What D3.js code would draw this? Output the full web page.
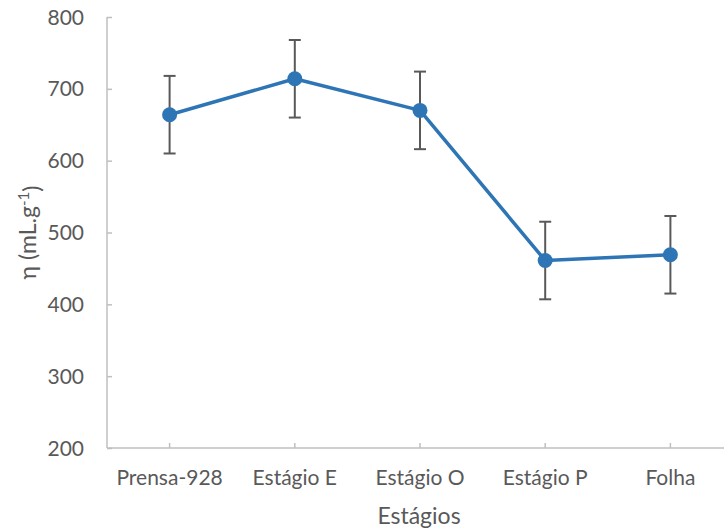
<!DOCTYPE html>
<html>
<head>
<meta charset="utf-8">
<script src="https://cdn.jsdelivr.net/npm/d3@7"></script>
<style>
  html, body { margin: 0; padding: 0; background: #fff; }
  svg { display: block; font-family: Lato, "Open Sans", sans-serif; }
</style>
</head>
<body>
<svg id="chart" width="724" height="532"></svg>
<script>
// Stages and measured values
const categories = ["Prensa-928", "Estágio E", "Estágio O", "Estágio P", "Folha"];
const values = [664, 714, 670, 461, 469];
const errors = [54, 54, 54, 54, 54];
const yTicks = [200, 300, 400, 500, 600, 700, 800];

const W = 724, H = 532;
const plot = { left: 107, right: 733, top: 17, bottom: 448 };

const svg = d3.select("#chart");

const x = d3.scaleBand().domain(categories).range([plot.left, plot.right]);
const y = d3.scaleLinear().domain([200, 800]).range([plot.bottom, plot.top]);
const cx = d => x(d) + x.bandwidth() / 2;

const axisColor = "#BFBFBF";
const textColor = "#595959";

// Y axis: line with inward ticks, labels to the left
const yAxis = d3.axisRight(y).tickValues(yTicks).tickSize(5).tickFormat("");
const gy = svg.append("g").attr("transform", `translate(${plot.left},0)`).call(yAxis);
gy.select(".domain").remove();
gy.selectAll(".tick line").attr("stroke", axisColor).attr("stroke-width", 1.5);
svg.append("line")
  .attr("x1", plot.left).attr("x2", plot.left)
  .attr("y1", y(800)).attr("y2", y(200))
  .attr("stroke", axisColor).attr("stroke-width", 1.5);

svg.append("g").selectAll("text").data(yTicks).join("text")
  .attr("x", 84).attr("y", d => y(d))
  .attr("dy", "0.36em")
  .attr("text-anchor", "end")
  .attr("fill", textColor)
  .style("font-size", "21px")
  .text(d => d);

// X axis: line with inward ticks at category centres
svg.append("line")
  .attr("x1", plot.left).attr("x2", W)
  .attr("y1", plot.bottom).attr("y2", plot.bottom)
  .attr("stroke", axisColor).attr("stroke-width", 1.5);
svg.append("g").selectAll("line").data(categories).join("line")
  .attr("x1", d => cx(d)).attr("x2", d => cx(d))
  .attr("y1", plot.bottom).attr("y2", plot.bottom - 5)
  .attr("stroke", axisColor).attr("stroke-width", 1.5);

svg.append("g").selectAll("text").data(categories).join("text")
  .attr("x", d => cx(d)).attr("y", 485)
  .attr("text-anchor", "middle")
  .attr("fill", textColor)
  .style("font-size", "21px")
  .text(d => d);

// Axis titles
svg.append("text")
  .attr("x", 419).attr("y", 524)
  .attr("text-anchor", "middle")
  .attr("fill", textColor)
  .style("font-size", "23px")
  .text("Estágios");

const yt = svg.append("text")
  .attr("transform", `translate(36,${(plot.top + plot.bottom) / 2}) rotate(-90)`)
  .attr("text-anchor", "middle")
  .attr("fill", textColor)
  .style("font-size", "23px");
yt.append("tspan").text("η (mL.g");
yt.append("tspan").attr("dy", "-0.45em").style("font-size", "15px").text("-1");
yt.append("tspan").attr("dy", "0.45em").text(")");

// Error bars
const eb = svg.append("g").attr("stroke", "#595959").attr("stroke-width", 2);
categories.forEach((c, i) => {
  const xc = cx(c);
  const hi = y(values[i] + errors[i]), lo = y(values[i] - errors[i]);
  eb.append("line").attr("x1", xc).attr("x2", xc).attr("y1", hi).attr("y2", lo);
  eb.append("line").attr("x1", xc - 6).attr("x2", xc + 6).attr("y1", hi).attr("y2", hi);
  eb.append("line").attr("x1", xc - 6).attr("x2", xc + 6).attr("y1", lo).attr("y2", lo);
});

// Series line and markers
const pts = categories.map((c, i) => [cx(c), y(values[i])]);
svg.append("path")
  .attr("d", d3.line()(pts))
  .attr("fill", "none")
  .attr("stroke", "#2E75B6")
  .attr("stroke-width", 3.5)
  .attr("stroke-linejoin", "round");

svg.append("g").selectAll("circle").data(pts).join("circle")
  .attr("cx", d => d[0]).attr("cy", d => d[1])
  .attr("r", 7.5)
  .attr("fill", "#2E75B6");
</script>
</body>
</html>
